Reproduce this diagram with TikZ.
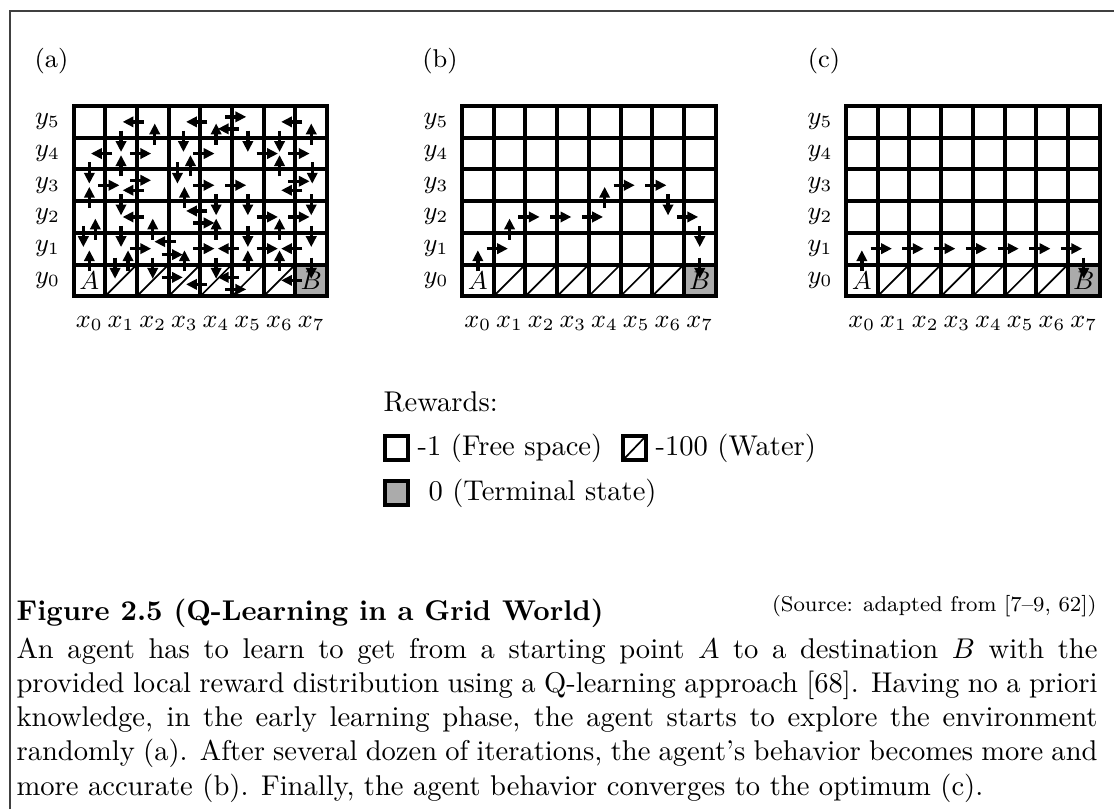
\documentclass[tikz,border=0pt]{standalone}
\usepackage{fontspec}
\usetikzlibrary{arrows.meta}

% cell size of the grid worlds (in picture units)
\newcommand\qs{31.7}

\tikzset{
  gridline/.style={line width=1.4pt},
  waterline/.style={line width=0.6pt},
  qarrow/.style={line width=1.2pt,-{Triangle[length=3.8pt,width=3.6pt]}},
  terminal/.style={fill=black!33},
  lbl/.style={font=\fontsize{9}{11}\selectfont,inner sep=0pt},
  body/.style={font=\fontsize{10}{12}\selectfont,inner sep=0pt},
  legendbox/.style={line width=1.1pt},
  framing/.style={line width=0.4pt,black!75},
}

% one 8x6 grid world: #1 = name, #2 = left edge
\newcommand\qgrid[2]{%
  \begin{scope}[shift={(#2,106)}]
    \fill[terminal] (7*\qs,5*\qs) rectangle (8*\qs,6*\qs);
    \foreach \k in {1,...,6}
      \draw[waterline] (\k*\qs,6*\qs) -- ({(\k+1)*\qs},5*\qs);
    \foreach \k in {1,...,7}
      \draw[gridline] (\k*\qs,0) -- (\k*\qs,6*\qs);
    \foreach \k in {1,...,5}
      \draw[gridline] (0,\k*\qs) -- (8*\qs,\k*\qs);
    \draw[gridline] (0,0) rectangle (8*\qs,6*\qs);
    \foreach \i in {0,...,7}
      \foreach \j in {0,...,5}
        \coordinate (#1-\i-\j) at ({(\i+0.5)*\qs},{(5.5-\j)*\qs});
    \foreach \j in {0,...,5}
      \node[lbl,anchor=east] (#1-y\j) at (-13,{(5.5-\j)*\qs}) {$y_{\j}$};
    \foreach \i in {0,...,7}
      \node[lbl,anchor=base] (#1-x\i) at ({(\i+0.5)*\qs},{6*\qs+31}) {$x_{\i}$};
    \node[lbl] (#1-start) at (#1-0-0) {$A$};
    \node[lbl] (#1-goal) at (#1-7-0) {$B$};
    \node[lbl] (#1-tag) at (-22,-45) {(#1)};
  \end{scope}}

% moves of the agent: cell i/j, direction dx/dy, sideways offset o
\newcommand\qmoves[2]{%
  \foreach \i/\j/\dx/\dy/\o in {#2} {
    \pgfmathsetmacro\sx{0.28*\qs*\dx+\o*\dy*\dy}
    \pgfmathsetmacro\sy{-0.28*\qs*\dy+\o*\dx*\dx}
    \pgfmathsetmacro\ex{0.95*\qs*\dx+\o*\dy*\dy}
    \pgfmathsetmacro\ey{-0.95*\qs*\dy+\o*\dx*\dx}
    \draw[qarrow] ([shift={(\sx,\sy)}]#1-\i-\j) -- ([shift={(\ex,\ey)}]#1-\i-\j);
  }}

\begin{document}
\begin{tikzpicture}[x=0.35pt,y=-0.35pt]
\useasboundingbox (0,0) rectangle (1114,809);
\draw[framing] (10,809) -- (10,11) -- (1114,11);

\qgrid{a}{73.5}
\qgrid{b}{462}
\qgrid{c}{846}

% (a) random exploration
\qmoves{a}{2/5/-1/0/0, 2/4/0/1/2, 4/5/-1/0/0, 4/5/1/0/-5, 5/5/-1/0/7,
  4/4/0/1/0, 5/5/0/-1/0, 7/5/-1/0/0, 7/4/0/1/0,
  1/4/-1/0/0, 1/5/0/-1/0, 1/3/0/1/0, 1/4/1/0/0, 3/5/0/-1/-1, 3/3/0/1/6,
  3/4/1/0/0, 5/4/1/0/0, 6/5/0/-1/0, 6/3/0/1/0, 6/4/1/0/0, 7/4/0/-1/1,
  0/4/0/-1/0, 0/2/0/1/0, 0/3/1/0/0, 1/3/1/0/-5, 2/3/-1/0/5, 3/4/0/-1/-7,
  3/2/0/1/0, 3/3/1/0/0, 4/3/1/0/0, 6/3/1/0/-4, 7/3/-1/0/5,
  1/3/0/-1/0, 2/2/-1/0/0, 2/1/0/1/0, 4/2/-1/0/-6, 3/2/1/0/6, 4/3/0/-1/0,
  4/1/0/1/0, 5/3/0/-1/0, 5/2/1/0/0, 6/1/0/1/0, 6/2/1/0/0, 7/3/0/-1/0,
  0/1/0/1/6, 0/2/0/-1/-6, 0/0/0/1/0, 1/2/0/-1/0, 1/0/0/1/7, 1/1/0/-1/-6,
  1/1/1/0/0, 3/1/-1/0/-7, 2/1/1/0/6, 3/0/0/1/0, 2/1/0/-1/0, 3/1/1/0/0,
  5/1/-1/0/0, 4/1/0/-1/0, 5/2/0/-1/0, 5/0/0/1/0, 5/1/1/0/0, 7/1/-1/0/0,
  6/0/0/1/0, 7/2/0/-1/0, 7/1/0/-1/0, 2/0/1/0/-3, 4/0/-1/0/4, 5/0/-1/0/-3,
  4/0/1/0/9, 7/0/-1/0/0}

% (b) improving policy
\qmoves{b}{0/0/0/1/0, 0/1/1/0/0, 1/1/0/1/0, 1/2/1/0/0, 2/2/1/0/0,
  3/2/1/0/0, 4/2/0/1/0, 4/3/1/0/0, 5/3/1/0/0, 6/3/0/-1/0, 6/2/1/0/0,
  7/2/0/-1/0, 7/1/0/-1/0}

% (c) converged policy
\qmoves{c}{0/0/0/1/0, 0/1/1/0/0, 1/1/1/0/0, 2/1/1/0/0, 3/1/1/0/0,
  4/1/1/0/0, 5/1/1/0/0, 6/1/1/0/0, 7/1/0/-1/0}

% legend
\node[body,anchor=base west] (rewards) at (383,411) {Rewards:};
\draw[legendbox] (385,436) rectangle (408,460);
\node[body,anchor=base west] (free) at (417,455) {-1 (Free space)};
\draw[legendbox] (623,436) rectangle (646,460);
\draw[waterline] (623,460) -- (646,436);
\node[body,anchor=base west] (water) at (655,455) {-100 (Water)};
\draw[legendbox,terminal] (385,481) rectangle (408,505);
\node[body,anchor=base west] (term) at (428,500) {0 (Terminal state)};

% caption
\node[body,anchor=base west] (title) at (16,620)
  {\bfseries Figure 2.5 (Q-Learning in a Grid World)};
\node[body,anchor=base east,font=\fontsize{7.5}{9}\selectfont] (source) at (1097,611)
  {(Source: adapted from [7--9, 62])};
\node[body,anchor=base west,text width=378.35pt,align=justify] (text) at (16,658)
  {An agent has to learn to get from a starting point $A$ to a destination $B$ with the\linebreak
   provided local reward distribution using a Q-learning approach [68]. Having no a priori\linebreak
   knowledge, in the early learning phase, the agent starts to explore the environment\linebreak
   randomly (a). After several dozen of iterations, the agent's behavior becomes more and\linebreak
   more accurate (b). Finally, the agent behavior converges to the optimum (c).};
\end{tikzpicture}
\end{document}
